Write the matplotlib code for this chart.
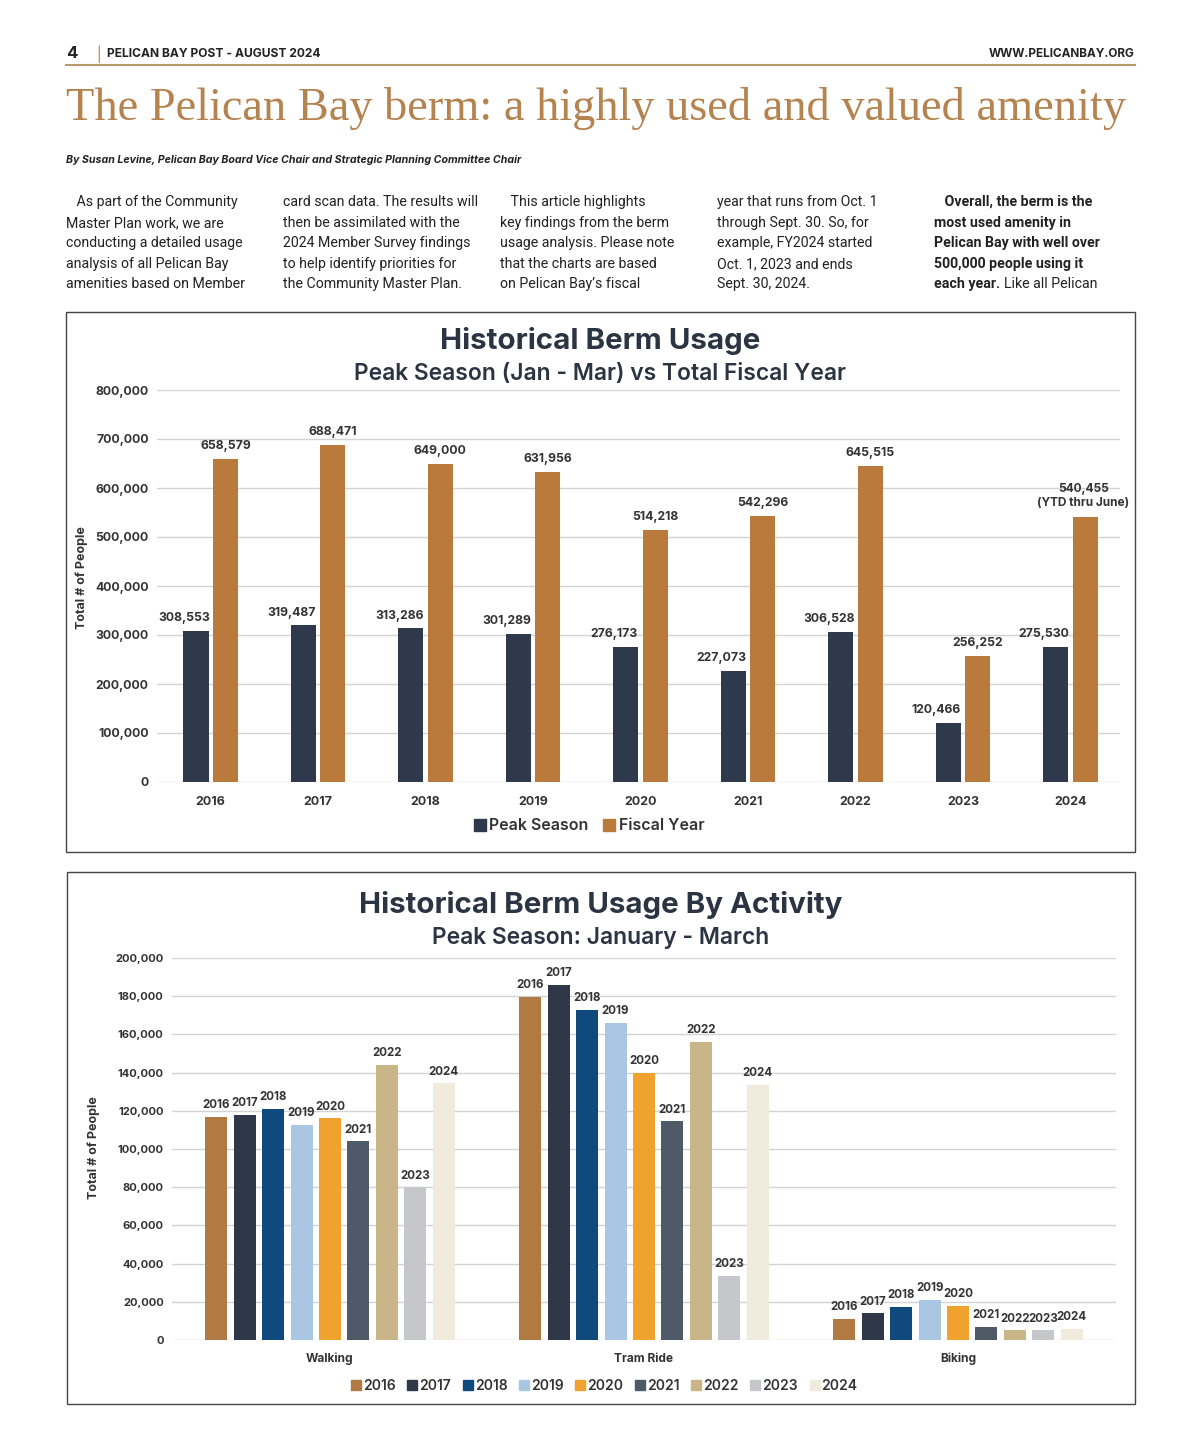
import matplotlib
matplotlib.use("Agg")
import matplotlib.pyplot as plt
from matplotlib.patches import Rectangle
from matplotlib.lines import Line2D

W, H = 1200, 1451

# data
years = ['2016', '2017', '2018', '2019', '2020', '2021', '2022', '2023', '2024']
peak = [308553, 319487, 313286, 301289, 276173, 227073, 306528, 120466, 275530]
fiscal = [658579, 688471, 649000, 631956, 514218, 542296, 645515, 256252, 540455]

activities = ['Walking', 'Tram Ride', 'Biking']
walking = [117000, 118000, 121000, 112600, 116000, 104000, 144000, 80000, 134500]
tram = [179600, 186000, 173000, 166000, 140000, 114500, 156000, 33500, 133500]
biking = [11000, 14000, 17300, 21000, 17800, 6800, 5200, 5200, 5800]

year_colors = ['#B07A42', '#2E3848', '#104A7C', '#A9C6E3', '#EFA22E',
               '#4F5A69', '#C9B588', '#C6C7CA', '#F1EBDD']
navy = '#2E3A4B'
copper = '#B97A3C'
tan = '#B5834F'
dark = '#2B3442'
txt = '#333333'

plt.rcParams['font.family'] = ['Inter', 'DejaVu Sans']

fig = plt.figure(figsize=(W / 100, H / 100), dpi=100)
fig.patch.set_facecolor('white')
renderer = fig.canvas.get_renderer()


def fx(x):
    return x / W


def fy(y):
    return 1 - y / H


def rect(l, t, r, b):
    return [l / W, 1 - b / H, (r - l) / W, (b - t) / H]


def fit_text(x, y, s, width, size, **kw):
    t = fig.text(fx(x), fy(y), s, fontsize=size, **kw)
    w = t.get_window_extent(renderer).width
    t.set_fontsize(size * width / w)
    return t


# page header
fig.text(fx(66), fy(54), '4', fontsize=12, fontweight='bold', color='#222', va='center')
fig.text(fx(96), fy(54), '|', fontsize=10, color=tan, va='center')
fit_text(107, 54, 'PELICAN BAY POST - AUGUST 2024', 214, 7,
         fontweight='bold', color='#222', va='center')
fit_text(989, 54, 'WWW.PELICANBAY.ORG', 146, 7,
         fontweight='bold', color='#222', va='center')
fig.add_artist(Line2D([fx(66), fx(1135)], [fy(65), fy(65)], color='#B89A6A', lw=1.5))

fit_text(66, 108, 'The Pelican Bay berm: a highly used and valued amenity', 1059, 40,
         family='Liberation Serif', color=tan, va='center')
fit_text(66, 160, 'By Susan Levine, Pelican Bay Board Vice Chair and Strategic Planning Committee Chair',
         454, 8, fontstyle='italic', fontweight='bold', color='#222', va='center')

# article columns
cols = [
    (66, ['   As part of the Community', 'Master Plan work, we are', 'conducting a detailed usage',
          'analysis of all Pelican Bay', 'amenities based on Member']),
    (283, ['card scan data. The results will', 'then be assimilated with the',
           '2024 Member Survey findings', 'to help identify priorities for', 'the Community Master Plan.']),
    (500, ['   This article highlights', 'key findings from the berm', 'usage analysis. Please note',
           'that the charts are based', 'on Pelican Bay\u2019s fiscal']),
    (717, ['year that runs from Oct. 1', 'through Sept. 30. So, for', 'example, FY2024 started',
           'Oct. 1, 2023 and ends', 'Sept. 30, 2024.']),
]
line_y = [202, 223, 243, 264, 284]
for x0, lines in cols:
    for ly, s in zip(line_y, lines):
        fig.text(fx(x0), fy(ly), s, fontsize=10.2, family='Roboto', color='#222', va='center')
bold_lines = ['   Overall, the berm is the', 'most used amenity in', 'Pelican Bay with well over',
              '500,000 people using it', 'each year.']
for ly, s in zip(line_y, bold_lines):
    tb = fig.text(fx(934), fy(ly), s, fontsize=10.2, family='Roboto', fontweight='bold',
                  color='#222', va='center')
ex = tb.get_window_extent(renderer)
fig.text(ex.x1 / W + 4 / W, fy(284), 'Like all Pelican', fontsize=10.2, family='Roboto',
         color='#222', va='center')

# chart frames
for l, t_, r, b in [(66, 312, 1135, 852), (67, 872, 1135, 1404)]:
    fig.add_artist(Rectangle((fx(l), fy(b)), (r - l) / W, (b - t_) / H, fill=False,
                             edgecolor='#444444', lw=1.0))


def style_axis(ax):
    for s in ax.spines.values():
        s.set_visible(False)
    ax.tick_params(length=0)
    ax.grid(axis='y', color='#D3D3D3', lw=1.0)
    ax.set_axisbelow(True)
    for lab in ax.get_yticklabels() + ax.get_xticklabels():
        lab.set_fontweight('bold')
        lab.set_color(txt)


# chart 1
ax1 = fig.add_axes(rect(157, 390, 1120, 782))
xs = list(range(len(years)))
bw = 0.233
off = 0.137
ax1.bar([x - off for x in xs], peak, width=bw, color=navy)
ax1.bar([x + off for x in xs], fiscal, width=bw, color=copper)
ax1.set_xlim(-0.5, 8.46)
ax1.set_ylim(0, 800000)
ax1.set_yticks(range(0, 800001, 100000))
ax1.set_yticklabels([f'{v:,}' for v in range(0, 800001, 100000)], fontsize=8.8)
ax1.set_xticks(xs)
ax1.set_xticklabels(years, fontsize=9)
ax1.tick_params(axis='x', pad=10)
ax1.tick_params(axis='y', pad=6)
style_axis(ax1)
for x, v in zip(xs, peak):
    ax1.annotate(f'{v:,}', (x - off - 0.11, v), xytext=(0, 5), textcoords='offset points',
                 ha='center', va='bottom', fontsize=8.8, fontweight='bold', color=txt)
for x, v in zip(xs[:-1], fiscal[:-1]):
    ax1.annotate(f'{v:,}', (x + off, v), xytext=(0, 5), textcoords='offset points',
                 ha='center', va='bottom', fontsize=8.8, fontweight='bold', color=txt)
ax1.annotate(f'{fiscal[-1]:,}\n(YTD thru June)', (xs[-1] + off - 0.02, fiscal[-1]), xytext=(0, 6),
             textcoords='offset points', ha='center', va='bottom', fontsize=8.5,
             fontweight='bold', color=txt, linespacing=1.15)
fig.text(fx(82), fy(578), 'Total # of People', rotation=90, fontsize=9, fontweight='bold',
         color=txt, ha='center', va='center')
fit_text(440, 341, 'Historical Berm Usage', 320, 22, fontweight='bold', color=dark, va='center')
fit_text(354, 374, 'Peak Season (Jan - Mar) vs Total Fiscal Year', 493, 17,
         fontweight='semibold', color=dark, va='center')
h1 = [Line2D([], [], marker='s', ls='', color=navy, markersize=9),
      Line2D([], [], marker='s', ls='', color=copper, markersize=9)]
fig.legend(h1, ['Peak Season', 'Fiscal Year'], loc='center', bbox_to_anchor=(fx(589), fy(826)),
           ncol=2, frameon=False, handletextpad=0.2, columnspacing=0.9, handlelength=0.8,
           prop={'size': 11.5, 'weight': 'semibold'}, labelcolor=txt)

# chart 2
ax2 = fig.add_axes(rect(172, 958, 1116, 1340))
pitch = 0.0904
bw2 = 0.07
series = list(zip(*[walking, tram, biking]))
for i, (yr, vals) in enumerate(zip(years, series)):
    pos = [g + (i - 4) * pitch for g in range(len(activities))]
    ax2.bar(pos, vals, width=bw2, color=year_colors[i], label=yr)
    for p, v in zip(pos, vals):
        ax2.annotate(yr, (p, v), xytext=(0, 4), textcoords='offset points', ha='center',
                     va='bottom', fontsize=8.3, fontweight='bold', color=txt)
ax2.set_xlim(-0.503, 2.503)
ax2.set_ylim(0, 200000)
ax2.set_yticks(range(0, 200001, 20000))
ax2.set_yticklabels([f'{v:,}' for v in range(0, 200001, 20000)], fontsize=8)
ax2.set_xticks(range(len(activities)))
ax2.set_xticklabels(activities, fontsize=8.6)
ax2.tick_params(axis='x', pad=9)
ax2.tick_params(axis='y', pad=6)
style_axis(ax2)
fig.text(fx(94), fy(1148), 'Total # of People', rotation=90, fontsize=9, fontweight='bold',
         color=txt, ha='center', va='center')
fit_text(359, 905, 'Historical Berm Usage By Activity', 483, 22, fontweight='bold', color=dark,
         va='center')
fit_text(432, 938, 'Peak Season: January - March', 338, 17, fontweight='semibold', color=dark,
         va='center')
h2 = [Line2D([], [], marker='s', ls='', color=c, markersize=7) for c in year_colors]
fig.legend(h2, years, loc='center', bbox_to_anchor=(fx(604), fy(1386)), ncol=9, frameon=False,
           handletextpad=0.1, columnspacing=0.8, handlelength=0.8,
           prop={'size': 10, 'weight': 'semibold'}, labelcolor=txt)

fig.savefig('out.png', dpi=100, facecolor='white')
